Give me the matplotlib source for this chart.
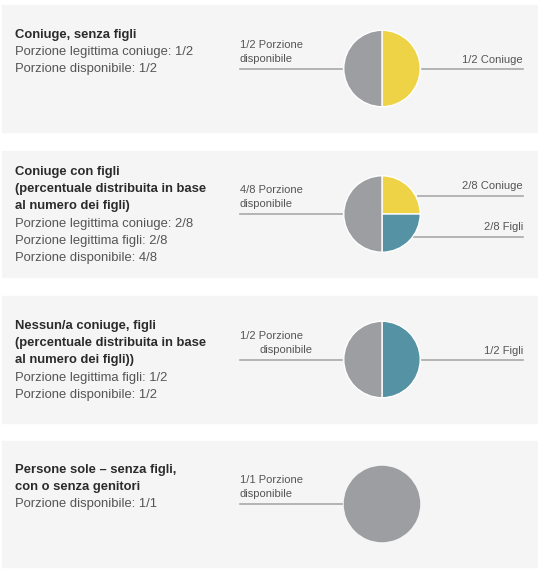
import matplotlib.pyplot as plt
from matplotlib.patches import Rectangle

# dati dei quattro casi
titoli = [
    ["Coniuge, senza figli"],
    ["Coniuge con figli", "(percentuale distribuita in base", "al numero dei figli)"],
    ["Nessun/a coniuge, figli", "(percentuale distribuita in base", "al numero dei figli))"],
    ["Persone sole – senza figli,", "con o senza genitori"],
]
dettagli = [
    ["Porzione legittima coniuge: 1/2", "Porzione disponibile: 1/2"],
    ["Porzione legittima coniuge: 2/8", "Porzione legittima figli: 2/8", "Porzione disponibile: 4/8"],
    ["Porzione legittima figli: 1/2", "Porzione disponibile: 1/2"],
    ["Porzione disponibile: 1/1"],
]
quote = [[1, 1], [2, 2, 4], [1, 1], [1]]
categorie = [
    ["Coniuge", "Disponibile"],
    ["Coniuge", "Figli", "Disponibile"],
    ["Figli", "Disponibile"],
    ["Disponibile"],
]
etichette_dx = [["1/2 Coniuge"], ["2/8 Coniuge", "2/8 Figli"], ["1/2 Figli"], []]
etichette_sx = ["1/2 Porzione", "4/8 Porzione", "1/2 Porzione", "1/1 Porzione"]

colori = {"Coniuge": "#efd346", "Figli": "#5592a3", "Disponibile": "#9d9ea2"}

# layout in pixel
W, H = 538, 569
pannelli = [(5, 132), (151, 277), (296, 423), (441, 567)]
testo_off = [30, 21, 30, 29]
cx, r = 382, 39
linea_col = "#a9a9a9"
txt_col = "#555555"
fs, fs_pie = 9.4, 8.0

plt.rcParams['font.family'] = ['Liberation Sans', 'DejaVu Sans']

fig = plt.figure(figsize=(W / 100, H / 100), dpi=100)
ax = fig.add_axes([0, 0, 1, 1])
ax.set_xlim(0, W)
ax.set_ylim(H, 0)
ax.axis('off')

for i, (y0, y1) in enumerate(pannelli):
    ax.add_patch(Rectangle((2, y0), W - 3, y1 - y0, color="#f4f5f4", zorder=0))
    cy = (y0 + y1) / 2

    # testo a sinistra
    y = y0 + testo_off[i]
    for t in titoli[i]:
        ax.text(15, y, t, fontsize=fs, fontweight='bold', color="#2b2b2b", va='center')
        y += 17.2
    for t in dettagli[i]:
        ax.text(15, y, t, fontsize=fs, color=txt_col, va='center')
        y += 17.2

    # torta
    pax = fig.add_axes([(cx - r) / W, 1 - (cy + r) / H, 2 * r / W, 2 * r / H])
    pax.pie(quote[i], colors=[colori[c] for c in categorie[i]], startangle=90,
            counterclock=False, radius=1,
            wedgeprops=dict(edgecolor='white', linewidth=1.0 if len(quote[i]) > 1 else 0))
    pax.set_xlim(-1.02, 1.02)
    pax.set_ylim(-1.02, 1.02)
    pax.axis('off')

    # etichetta a sinistra
    ax.plot([240, cx - r - 1], [cy, cy], color=linea_col, lw=1.2)
    ax.text(240, cy - 24, etichette_sx[i], fontsize=fs_pie, color=txt_col, va='center')
    x2 = 259 if i == 2 else 240
    ax.text(x2, cy - 10, "disponibile", fontsize=fs_pie, color=txt_col, va='center')

    # etichette a destra
    if len(etichette_dx[i]) == 1:
        ax.plot([cx + r + 1, 523], [cy, cy], color=linea_col, lw=1.2)
        ax.text(523, cy - 9, etichette_dx[i][0], fontsize=fs_pie, color=txt_col, va='center', ha='right')
    elif len(etichette_dx[i]) == 2:
        for lab, dy, xs in zip(etichette_dx[i], [-18, 23], [418, 413]):
            ax.plot([xs, 523], [cy + dy, cy + dy], color=linea_col, lw=1.2)
            ax.text(523, cy + dy - 10, lab, fontsize=fs_pie, color=txt_col, va='center', ha='right')

fig.savefig("out.png", dpi=100, facecolor='white')
